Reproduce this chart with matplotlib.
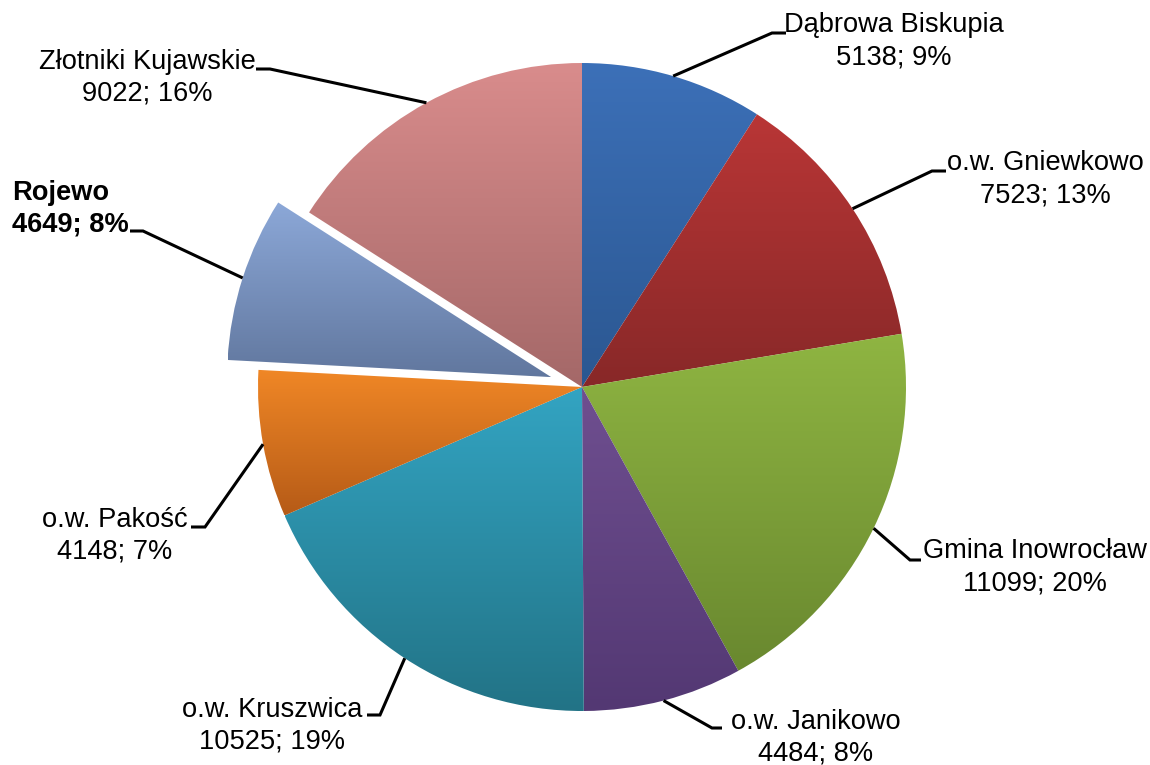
"""
plot.py - pie chart: population by gmina (powiat inowrocławski)
Output: out.png
"""

import numpy as np
import matplotlib
matplotlib.use('Agg')
import matplotlib.pyplot as plt
from matplotlib.colors import LinearSegmentedColormap

plt.rcParams['font.family'] = ['Liberation Sans', 'DejaVu Sans']

# ── Data ──────────────────────────────────────────────────────
GMINY   = ['Dąbrowa Biskupia', 'o.w. Gniewkowo', 'Gmina Inowrocław', 'o.w. Janikowo',
           'o.w. Kruszwica', 'o.w. Pakość', 'Rojewo', 'Złotniki Kujawskie']
LUDNOSC = [5138, 7523, 11099, 4484, 10525, 4148, 4649, 9022]

# gradient colours (top, bottom) per slice
KOLOR_GORA = ['#3c70b8', '#b93636', '#8fb542', '#6f4f90', '#33a4c2', '#f08726', '#8ca8d8', '#d98c8c']
KOLOR_DOL  = ['#2b5791', '#882828', '#69882f', '#533873', '#227386', '#b65b17', '#61779e', '#a46868']

# ── Layout (pixels, top-left origin) ──────────────────────────
W, H      = 1150, 765
CX, CY, R = 582, 387, 324
# elbow of leader, end of leader, text anchor
ELBOW = [(772, 33), (932, 171), (910, 560), (712, 728),
         (380, 715), (205, 527), (143, 231), (270, 69)]
KONIEC = [(786, 33), (946, 171), (921, 560), (722, 728),
          (367, 715), (191, 527), (130, 231), (256, 69)]
TEKST = [(894, 41), (1045, 179), (1035, 567), (816, 738),
         (272, 726), (115, 536), (12, 209), (147, 78)]


def px(p):
    return (p[0] - CX) / R, (CY - p[1]) / R


fig = plt.figure(figsize=(11.5, 7.65), dpi=100)
ax  = fig.add_axes([0, 0, 1, 1])

explode = [0.1 if g == 'Rojewo' else 0 for g in GMINY]
wedges, _ = ax.pie(LUDNOSC, startangle=90, counterclock=False, explode=explode,
                   radius=1, wedgeprops=dict(linewidth=0))

total = sum(LUDNOSC)
for i, w in enumerate(wedges):
    # vertical gradient clipped to the wedge
    w.set_facecolor('none')
    ext  = w.get_path().get_extents()
    cmap = LinearSegmentedColormap.from_list(f'g{i}', [KOLOR_DOL[i], KOLOR_GORA[i]])
    grad = np.linspace(0, 1, 256).reshape(-1, 1)
    im = ax.imshow(grad, extent=[ext.x0, ext.x1, ext.y0, ext.y1], origin='lower',
                   cmap=cmap, aspect='auto', interpolation='bilinear', zorder=1)
    im.set_clip_path(w)

    # leader line from wedge edge
    th = np.deg2rad((w.theta1 + w.theta2) / 2)
    cx, cy = w.center
    x0, y0 = cx + w.r * np.cos(th), cy + w.r * np.sin(th)
    x1, y1 = px(ELBOW[i])
    x2, y2 = px(KONIEC[i])
    ax.plot([x0, x1, x2], [y0, y1, y2], color='black', lw=2.2, zorder=3,
            solid_capstyle='butt', solid_joinstyle='miter')

    pct  = round(LUDNOSC[i] / total * 100)
    txt  = f'{GMINY[i]}\n{LUDNOSC[i]}; {pct}%'
    bold = GMINY[i] == 'Rojewo'
    tx, ty = px(TEKST[i])
    ax.text(tx, ty, txt, ha='left' if bold else 'center', va='center',
            multialignment='left' if bold else 'center', fontsize=19.6,
            fontweight='bold' if bold else 'normal', linespacing=1.3, zorder=4)

ax.set_xlim(-CX / R, (W - CX) / R)
ax.set_ylim(-(H - CY) / R, CY / R)
ax.set_aspect('auto')
ax.axis('off')

fig.savefig('out.png', dpi=100, facecolor='white')
